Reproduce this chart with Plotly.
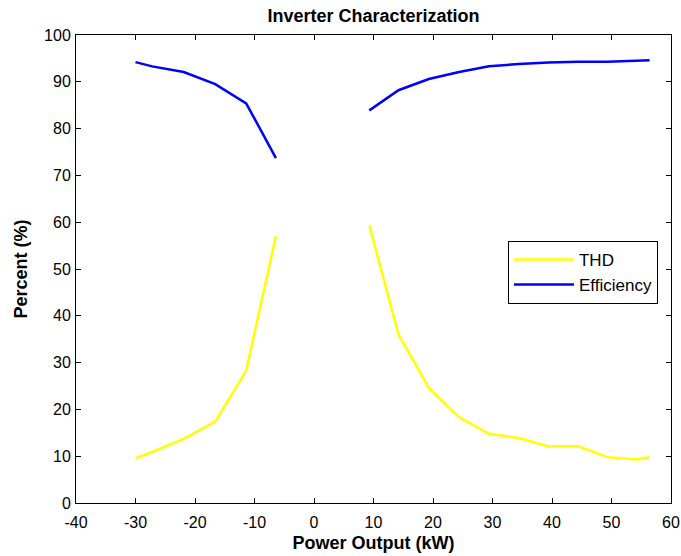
import plotly.graph_objects as go

# Data
x_left = [-30, -27.2, -21.9, -16.6, -11.4, -6.4]
x_right = [9.3, 14.2, 19.3, 24.4, 29.4, 34.4, 39.4, 44.4, 49.3, 54.3, 56.4]
thd_left = [9.6, 10.9, 13.7, 17.4, 28.3, 57.0]
thd_right = [59.3, 36.0, 24.6, 18.3, 14.8, 13.9, 12.1, 12.1, 9.8, 9.3, 9.8]
eff_left = [94.2, 93.3, 92.1, 89.5, 85.4, 73.7]
eff_right = [83.9, 88.2, 90.6, 92.1, 93.3, 93.8, 94.1, 94.3, 94.3, 94.5, 94.6]

x_tick_vals = [-40, -30, -20, -10, 0, 10, 20, 30, 40, 50, 60]
x_tick_text = ["-40", "-30", "-20", "-10", "0", "10", "20", "30", "40", "50", "60"]

x_all = x_left + [None] + x_right
thd_all = thd_left + [None] + thd_right
eff_all = eff_left + [None] + eff_right

FONT = "Liberation Sans, Arial, sans-serif"

fig = go.Figure()
fig.add_trace(go.Scatter(x=x_all, y=thd_all, mode="lines", name="THD",
                         line=dict(color="#FFFF00", width=2.5), connectgaps=False))
fig.add_trace(go.Scatter(x=x_all, y=eff_all, mode="lines", name="Efficiency",
                         line=dict(color="#0000FF", width=2.5), connectgaps=False))

axis_common = dict(showgrid=False, zeroline=False, showline=True, linecolor="black",
                   linewidth=1, mirror="ticks", ticks="inside", ticklen=5,
                   tickcolor="black", automargin=False,
                   tickfont=dict(family=FONT, size=16, color="black"))

fig.update_layout(
    width=681, height=556,
    paper_bgcolor="white", plot_bgcolor="white",
    margin=dict(l=76, r=10, t=35, b=53, autoexpand=False),
    title=dict(text="<b>Inverter Characterization</b>", x=0.5485, xanchor="center",
               y=0.972, yanchor="middle",
               font=dict(family=FONT, size=18, color="black")),
    xaxis=dict(range=[-40, 60], tickmode="array", tickvals=x_tick_vals,
               ticktext=x_tick_text, ticklabelstandoff=5,
               title=dict(text="<b>Power Output (kW)</b>", standoff=6,
                          font=dict(family=FONT, size=18, color="black")),
               **axis_common),
    yaxis=dict(range=[0, 100], tick0=0, dtick=10, ticklabelstandoff=1,
               title=dict(text="<b>Percent (%)</b>", standoff=11,
                          font=dict(family=FONT, size=18, color="black")),
               **axis_common),
    legend=dict(x=0.726, y=0.56, xanchor="left", yanchor="top",
                bgcolor="white", bordercolor="black", borderwidth=1,
                font=dict(family=FONT, size=17, color="black"),
                itemwidth=60, tracegroupgap=0),
    showlegend=True,
)

fig.write_html("out.html")
